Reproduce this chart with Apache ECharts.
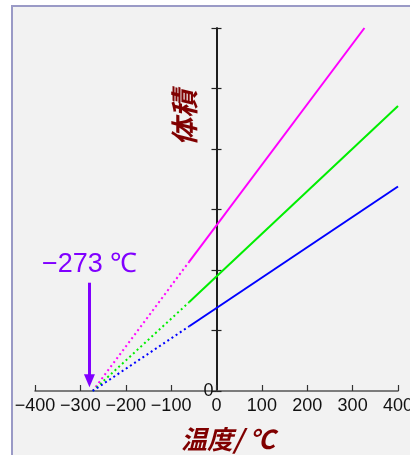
<!DOCTYPE html>
<html>
<head>
<meta charset="utf-8">
<script src="https://cdn.jsdelivr.net/npm/echarts@6/dist/echarts.min.js"></script>
<style>html,body{margin:0;padding:0;background:#fff}#c{width:410px;height:455px}</style>
</head>
<body>
<div id="c"></div>
<script>
// Extrapolated (dotted) segments: from absolute zero to lowest measured temperature
const extrapTemps = [-273, -60];
const magentaExtrap = [0, 2.14];
const greenExtrap = [0, 1.47];
const blueExtrap = [0, 1.07];
// Measured (solid) segments
const magentaTemps = [-60, 326];
const magentaMeasured = [2.14, 6.0];
const measuredTemps = [-60, 400];
const greenMeasured = [1.47, 4.71];
const blueMeasured = [1.07, 3.38];
// Axis ranges
const xMin = -400, xMax = 400, xStep = 100;
const yMin = 0, yMax = 6, yStep = 1;
// Annotation
const annotText = '−273 ℃';
const arrowTemp = -280;
const arrowFrom = 1.79;
const arrowTo = 0.17;

const pairs = (xs, ys) => xs.map((x, i) => [x, ys[i]]);
const fmtX = v => v < 0 ? '−' + (-v) : String(v);
const latin = '"Liberation Sans", Arial, sans-serif';
const cjk = '"Noto Sans CJK JP", sans-serif';

function line(name, data, color, dotted) {
  return {
    name, type: 'line', data, showSymbol: false, symbol: 'none', silent: true,
    xAxisIndex: 0, yAxisIndex: 0,
    lineStyle: { color, width: 2, type: dotted ? [2, 3] : 'solid' },
    z: 5
  };
}

const G = { top: 28, bottom: 64 };
const chart = echarts.init(document.getElementById('c'), null, { renderer: 'canvas' });
chart.setOption({
  backgroundColor: '#ffffff',
  animation: false,
  grid: [
    { left: 35, right: 12, top: G.top, bottom: G.bottom, containLabel: false, outerBoundsMode: 'none' },
    // helper grid whose left edge is the y axis (x = 0) for the left-pointing ticks and "0" label
    { left: 216.5, right: 12, top: G.top, bottom: G.bottom, containLabel: false, outerBoundsMode: 'none' }
  ],
  xAxis: [
    {
      gridIndex: 0, type: 'value', min: xMin, max: xMax, interval: xStep,
      axisLine: { show: true, onZero: false, lineStyle: { color: '#555', width: 1.5 } },
      axisTick: { show: true, inside: true, length: 6, lineStyle: { color: '#333', width: 1.2 } },
      splitLine: { show: false },
      axisLabel: { formatter: fmtX, color: '#111', fontSize: 18, fontFamily: latin, margin: 6 }
    },
    {
      gridIndex: 1, type: 'value', min: 0, max: xMax, show: false
    }
  ],
  yAxis: [
    {
      gridIndex: 0, type: 'value', min: yMin, max: yMax, interval: yStep,
      axisLine: { show: true, onZero: true, lineStyle: { color: '#111', width: 1.5 } },
      axisTick: { show: true, inside: true, length: 5, lineStyle: { color: '#222', width: 1.2 } },
      splitLine: { show: false },
      axisLabel: { show: false }
    },
    {
      gridIndex: 1, type: 'value', min: yMin, max: yMax, interval: yStep, position: 'left',
      axisLine: { show: true, onZero: false, lineStyle: { color: '#111', width: 1.5 } },
      axisTick: { show: true, inside: false, length: 5, lineStyle: { color: '#222', width: 1.2 } },
      splitLine: { show: false },
      axisLabel: { formatter: v => v === 0 ? '0' : '', color: '#111', fontSize: 18, fontFamily: latin, margin: 3, verticalAlign: 'middle' }
    }
  ],
  graphic: [
    { type: 'rect', z: -10, silent: true, shape: { x: 12, y: 6, width: 420, height: 470 },
      style: { fill: '#f2f2f2', stroke: '#9a9ac6', lineWidth: 2 } },
    { type: 'text', left: 42, top: 251, silent: true,
      style: { text: annotText, fill: '#8000ff', font: '27px ' + latin } },
    { type: 'text', x: 184, y: 118, rotation: Math.PI / 2, silent: true,
      style: { text: '体積', fill: '#800000', font: 'italic bold 28px ' + cjk, align: 'center', verticalAlign: 'middle' } },
    { type: 'text', x: 228, y: 439, silent: true,
      style: { text: '温度/ ℃', fill: '#800000', font: 'italic bold 26px ' + cjk, align: 'center', verticalAlign: 'middle' } }
  ],
  series: [
    line('magenta dotted', pairs(extrapTemps, magentaExtrap), '#ff00ff', true),
    line('green dotted', pairs(extrapTemps, greenExtrap), '#00ee00', true),
    line('blue dotted', pairs(extrapTemps, blueExtrap), '#0000ff', true),
    line('magenta', pairs(magentaTemps, magentaMeasured), '#ff00ff', false),
    line('green', pairs(measuredTemps, greenMeasured), '#00ee00', false),
    line('blue', pairs(measuredTemps, blueMeasured), '#0000ff', false),
    {
      type: 'line', data: [], silent: true, xAxisIndex: 0, yAxisIndex: 0,
      markLine: {
        silent: true, symbol: ['none', 'triangle'], symbolSize: [11, 13],
        label: { show: false },
        lineStyle: { color: '#8000ff', width: 3, type: 'solid' },
        data: [[{ coord: [arrowTemp, arrowFrom] }, { coord: [arrowTemp, arrowTo] }]]
      }
    }
  ]
});
</script>
</body>
</html>
